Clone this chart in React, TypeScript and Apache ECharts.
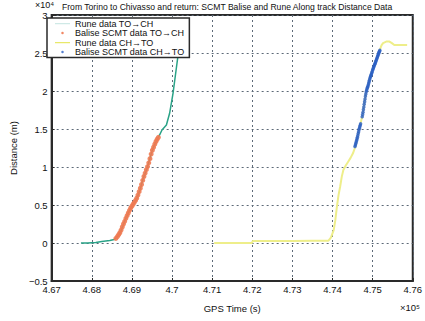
import React, { useEffect, useRef } from "react";
import * as echarts from "echarts";

const xTicks = [467000, 476000, 1000];
const yTicks = [-5000, 30000, 5000];

const runeToCh: [number, number][] = [
  [467730, 0], [467900, 10], [468100, 60], [468250, 200], [468450, 320], [468560, 450],
  [468650, 900], [468720, 1500], [468830, 3000], [468920, 4100], [469000, 4800],
  [469110, 5650], [469200, 7000], [469270, 8300], [469390, 10050], [469510, 12250],
  [469600, 13300], [469670, 14000], [469750, 14870], [469860, 15530], [469940, 17070],
  [469990, 18600], [470025, 19700], [470100, 22700], [470145, 24500], [470190, 26500],
  [470230, 27500],
];

const baliseToCh: [number, number][] = [
  [468600, 600], [468640, 850], [468670, 1100], [468700, 1350], [468730, 1700],
  [468760, 2100], [468790, 2500], [468820, 2850], [468850, 3250], [468880, 3600],
  [468910, 3950], [468940, 4300], [468970, 4600], [469000, 4850], [469030, 5100],
  [469060, 5350], [469090, 5600], [469120, 5900], [469150, 6300], [469180, 6750],
  [469210, 7200], [469240, 7700], [469270, 8250], [469300, 8750], [469330, 9200],
  [469360, 9650], [469390, 10050], [469420, 10550], [469450, 11100], [469480, 11700],
  [469510, 12200], [469540, 12600], [469570, 13000], [469600, 13350], [469630, 13650],
  [469660, 13900],
];

const runeChTo: [number, number][] = [
  [471050, 0], [471500, 0], [471990, 0], [472010, 250], [472500, 250], [473000, 250],
  [473500, 280], [473900, 300], [473960, 700], [474030, 1700], [474070, 3000],
  [474110, 4800], [474150, 6300], [474190, 7400], [474230, 8700], [474270, 9600],
  [474330, 10200], [474390, 10700], [474450, 11200], [474510, 11800], [474550, 12400],
  [474590, 13100], [474630, 14100], [474670, 15100], [474710, 16000], [474750, 16850],
  [474790, 18300], [474830, 19700], [474890, 20800], [474940, 21900], [475000, 22800],
  [475060, 23650], [475120, 24500], [475180, 25400], [475220, 26000], [475260, 26300],
  [475340, 26500], [475420, 26500], [475480, 26300], [475540, 26050], [475700, 26050],
  [475860, 26050],
];

const baliseChTo: [number, number][] = [
  [474560, 12700], [474570, 12900], [474580, 13100], [474590, 13300], [474600, 13500],
  [474610, 13700], [474620, 13900], [474630, 14150], [474640, 14400], [474650, 14650],
  [474660, 14900], [474670, 15100], [474680, 15300], [474690, 15500], [474700, 15700],
  [474740, 16600], [474750, 16900], [474760, 17200], [474770, 17550], [474780, 17900],
  [474790, 18250], [474800, 18600], [474810, 18950], [474820, 19300], [474830, 19600],
  [474840, 19900], [474850, 20100], [474860, 20300], [474870, 20450], [474880, 20600],
  [474890, 20800], [474900, 21000], [474910, 21200], [474920, 21400], [474930, 21600],
  [474940, 21800], [474950, 21950], [474960, 22100], [474970, 22250], [474980, 22400],
  [474990, 22580], [475000, 22750], [475010, 22900], [475020, 23050], [475030, 23200],
  [475040, 23350], [475050, 23480], [475060, 23600], [475070, 23750], [475080, 23900],
  [475090, 24050], [475100, 24200], [475110, 24350], [475120, 24500], [475130, 24650],
  [475140, 24800], [475150, 24950], [475160, 25100], [475170, 25230], [475180, 25350],
];

const seriesNames = [
  "Rune data TO→CH",
  "Balise SCMT data TO→CH",
  "Rune data CH→TO",
  "Balise SCMT data CH→TO",
];

const FONT = "'Liberation Sans', Arial, sans-serif";
const dotIcon = "path://M0,0 M30,18 M12.5,9 a2.5,2.5 0 1,0 5,0 a2.5,2.5 0 1,0 -5,0";
const lineIcon = "path://M0,0 M30,18 M0,8 L30,8 L30,10.5 L0,10.5 Z";

export default function App() {
  const ref = useRef<HTMLDivElement>(null);
  useEffect(() => {
    if (!ref.current) return;
    const chart = echarts.init(ref.current, undefined, { renderer: "svg" });
    const gridLine = {
      show: true,
      lineStyle: { color: "#5d6a78", type: [2, 3], width: 1 },
    };
    chart.setOption({
      animation: false,
      backgroundColor: "#ffffff",
      textStyle: { fontFamily: FONT },
      grid: {
        left: 43, right: 4, top: 15, bottom: 40,
        show: true, borderColor: "#2a2a2a", borderWidth: 2, backgroundColor: "transparent",
      },
      xAxis: {
        type: "value",
        min: xTicks[0], max: xTicks[1], interval: xTicks[2],
        name: "GPS Time (s)",
        nameLocation: "middle",
        nameGap: 22,
        nameTextStyle: { fontSize: 9.5, color: "#111", fontFamily: FONT },
        axisLine: { show: true, onZero: false, lineStyle: { color: "#2a2a2a", width: 2 } },
        axisTick: { show: true, inside: true, length: 3, lineStyle: { color: "#2a2a2a" } },
        axisLabel: {
          fontSize: 9.5, color: "#111", margin: 3, fontFamily: FONT,
          formatter: (v: number) => String(Number((v / 1e5).toFixed(2))),
        },
        splitLine: gridLine,
      },
      yAxis: {
        type: "value",
        min: yTicks[0], max: yTicks[1], interval: yTicks[2],
        name: "Distance (m)",
        nameLocation: "middle",
        nameGap: 26,
        nameTextStyle: { fontSize: 9.5, color: "#111", fontFamily: FONT },
        axisLine: { show: true, onZero: false, lineStyle: { color: "#2a2a2a", width: 2 } },
        axisTick: { show: true, inside: true, length: 3, lineStyle: { color: "#2a2a2a" } },
        axisLabel: {
          fontSize: 9.5, color: "#111", margin: 4, fontFamily: FONT,
          formatter: (v: number) => {
            const s = String(Number((v / 1e4).toFixed(1)));
            return s.replace("-", "−");
          },
        },
        splitLine: gridLine,
      },
      legend: {
        orient: "vertical",
        left: 47,
        top: 18,
        padding: [1, 5, 1, 8],
        itemGap: 0.5,
        itemWidth: 15,
        itemHeight: 9,
        backgroundColor: "#ffffff",
        borderColor: "#2a2a2a",
        borderWidth: 1.5,
        textStyle: { fontSize: 9, color: "#111", fontFamily: FONT, lineHeight: 9 },
        data: [
          { name: seriesNames[0], icon: lineIcon, itemStyle: { color: "#cfe9e6" } },
          { name: seriesNames[1], icon: dotIcon },
          { name: seriesNames[2], icon: lineIcon },
          { name: seriesNames[3], icon: dotIcon },
        ],
      },
      graphic: [
        {
          type: "text", left: 35, top: 0,
          style: { text: "×10⁴", fontSize: 9, fill: "#111", fontFamily: FONT },
        },
        {
          type: "text", left: 62, top: 2,
          style: {
            text: "From Torino to Chivasso and return: SCMT Balise and Rune Along track Distance Data",
            fontSize: 8.6, fill: "#111", fontFamily: FONT,
          },
        },
        {
          type: "text", left: 400, top: 302,
          style: { text: "×10⁵", fontSize: 9.5, fill: "#111", fontFamily: FONT },
        },
      ],
      series: [
        {
          name: seriesNames[0], type: "line", data: runeToCh, symbol: "none",
          lineStyle: { color: "#2aa387", width: 1.5 }, itemStyle: { color: "#2aa387" }, z: 2,
        },
        {
          name: seriesNames[1], type: "scatter", data: baliseToCh, symbolSize: 5,
          itemStyle: { color: "#f07a52", opacity: 0.9 }, z: 3,
        },
        {
          name: seriesNames[2], type: "line", data: runeChTo, symbol: "none",
          lineStyle: { color: "#eeee8a", width: 2 }, itemStyle: { color: "#e8e86a" }, z: 2,
        },
        {
          name: seriesNames[3], type: "scatter", data: baliseChTo, symbolSize: 3.5,
          itemStyle: { color: "#2a5fc4" }, z: 3,
        },
      ],
    });
    return () => chart.dispose();
  }, []);
  return <div ref={ref} style={{ width: 425, height: 321, position: "absolute", left: 0, top: 0 }} />;
}
